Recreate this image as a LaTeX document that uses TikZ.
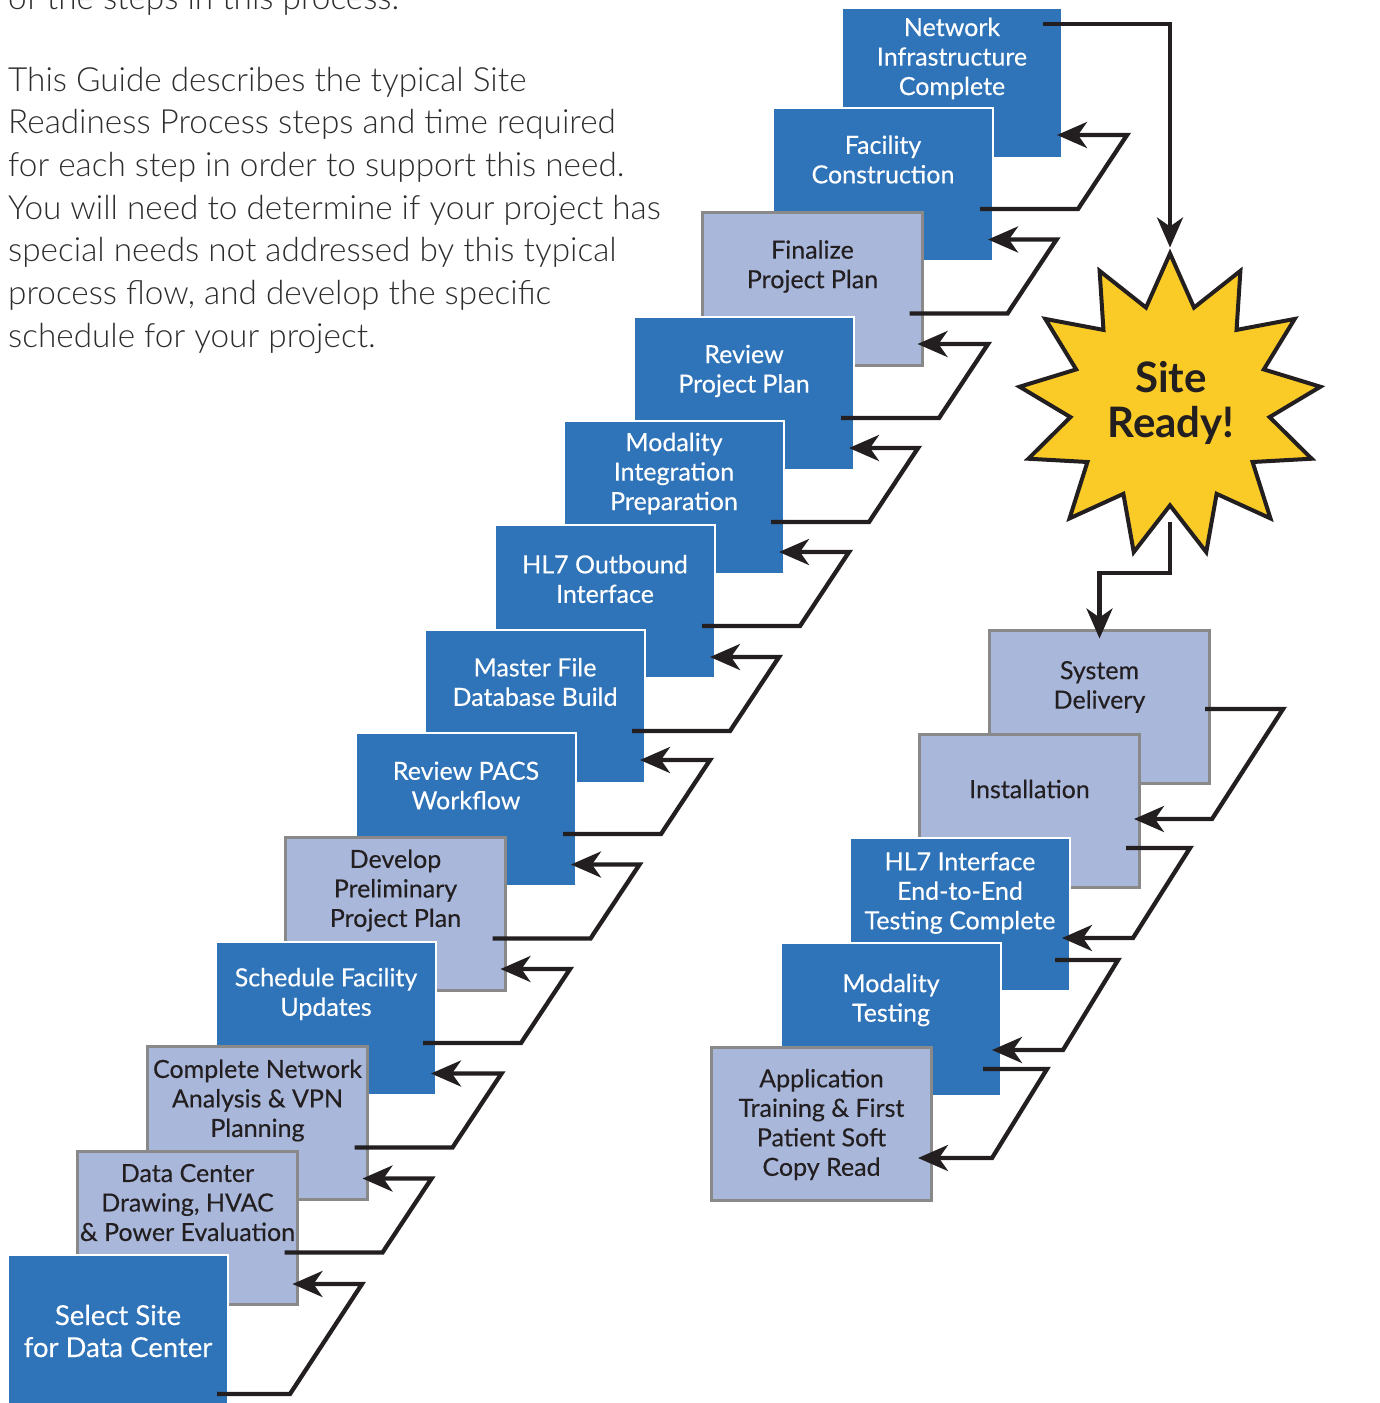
\documentclass[tikz,border=0pt]{standalone}
\usepackage{fontspec}
\setmainfont{Lato}
\newfontfamily\parafont{Lato Light}
\newfontfamily\boxfont{Lato}[FakeBold=0.3]
\usetikzlibrary{shapes.geometric,arrows.meta,calc}
\definecolor{geblue}{RGB}{47,115,185}
\definecolor{lav}{RGB}{169,183,219}
\definecolor{bordgray}{RGB}{137,137,137}
\definecolor{ink}{RGB}{35,31,32}
\definecolor{staryellow}{RGB}{250,203,38}
\definecolor{paratext}{RGB}{45,45,45}
\tikzset{
  boxbase/.style={rectangle, minimum width=220pt, minimum height=153pt, inner sep=0pt, outer sep=0pt},
  bluebox/.style={boxbase, fill=geblue, draw=white, line width=2pt},
  lavbox/.style={boxbase, fill=lav, draw=bordgray, line width=3pt},
  btext/.style={text=white, align=center, inner sep=0pt, font=\boxfont\fontsize{25}{29.5}\selectfont},
  dtext/.style={text=ink, align=center, inner sep=0pt, font=\boxfont\fontsize{25}{29.5}\selectfont},
  para/.style={anchor=base west, inner sep=0pt, text=paratext, font=\parafont\fontsize{33.3}{38}\selectfont},
  starshape/.style={star, star points=13, star point ratio=1.51, minimum size=303pt, inner sep=0pt, outer sep=0pt, fill=staryellow, draw=ink, line width=4pt, line join=miter},
  startext/.style={text=ink, align=center, inner sep=0pt, font=\bfseries\fontsize{42}{45}\selectfont},
  arr/.style={draw=ink, line width=4.3pt, line join=miter, -{Stealth[length=30pt,width=26pt,inset=9pt]}}
}
\begin{document}
\begin{tikzpicture}[x=1pt,y=-1pt]
\useasboundingbox (0,0) rectangle (1379,1403);

% introductory paragraph
\node[para] (p0) at (8,9) {of the steps in this process.};
\node[para] (p1) at (8,91) {This Guide describes the typical Site};
\node[para] (p2) at (8,133.7) {Readiness Process steps and time required};
\node[para] (p3) at (8,176.3) {for each step in order to support this need.};
\node[para] (p4) at (8,219) {You will need to determine if your project has};
\node[para] (p5) at (8,261.7) {special needs not addressed by this typical};
\node[para] (p6) at (8,304.3) {process flow, and develop the specific};
\node[para] (p7) at (8,347) {schedule for your project.};

% left staircase (back to front)
\node[bluebox, minimum height=150pt] (b13) at (952,83) {};
\node[btext] (t13) at (952,58.5) {Network\\Infrastructure\\Complete};
\node[bluebox] (b12) at (883,184.5) {};
\node[btext] (t12) at (883,159.5) {Facility\\Construction};
\node[lavbox] (b11) at (812.5,289) {};
\node[dtext] (t11) at (812.5,266.5) {Finalize\\Project Plan};
\node[bluebox] (b10) at (744,393.5) {};
\node[btext] (t10) at (744,371) {Review\\Project Plan};
\node[bluebox] (b9) at (674,497.5) {};
\node[btext] (t9) at (674,473.5) {Modality\\Integration\\Preparation};
\node[bluebox] (b8) at (605,601.5) {};
\node[btext] (t8) at (605,579) {HL7 Outbound\\Interface};
\node[bluebox] (b7) at (535,706.5) {};
\node[btext] (t7) at (535,682) {Master File\\Database Build};
\node[bluebox] (b6) at (466,809.5) {};
\node[btext] (t6) at (466,785.5) {Review PACS\\Workflow};
\node[lavbox] (b5) at (395.5,914) {};
\node[dtext] (t5) at (395.5,890.5) {Develop\\Preliminary\\Project Plan};
\node[bluebox] (b4) at (326,1018.5) {};
\node[btext] (t4) at (326,994) {Schedule Facility\\Updates};
\node[lavbox] (b3) at (257.5,1123) {};
\node[dtext] (t3) at (257.5,1100.5) {Complete Network\\Analysis \& VPN\\Planning};
\node[lavbox] (b2) at (187.5,1228) {};
\node[dtext] (t2) at (187.5,1202.5) {Data Center\\Drawing, HVAC\\\& Power Evaluation};
\node[bluebox] (b1) at (118,1331.5) {};
\node[btext, font=\boxfont\fontsize{27.5}{32}\selectfont] (t1) at (118,1331) {Select Site\\for Data Center};

% right staircase
\node[lavbox] (r1) at (1099.5,707) {};
\node[dtext] (s1) at (1099.5,687) {System\\Delivery};
\node[lavbox] (r2) at (1029.5,811) {};
\node[dtext] (s2) at (1029.5,789) {Installation};
\node[bluebox] (r3) at (960,914.5) {};
\node[btext] (s3) at (960,893) {HL7 Interface\\End-to-End\\Testing Complete};
\node[bluebox] (r4) at (891,1019.5) {};
\node[btext] (s4) at (891,1000) {Modality\\Testing};
\node[lavbox] (r5) at (821.5,1124) {};
\node[dtext] (s5) at (821.5,1124.5) {Application\\Training \& First\\Patient Soft\\Copy Read};

% star
\node[starshape] (star) at (1170,405) {};
\node[startext] (st) at (1171,403) {Site\\Ready!};

% connectors left chain
\draw[arr] ($(b1.north east)+(-11,139)$) -- ++(73,0) -- ++(72,-110) coordinate (k1) -- ($(k1 -| b2.east)+(-5,0)$);
\foreach \i/\j in {2/3,3/4,4/5,5/6,6/7,7/8,8/9,9/10,10/11,11/12,12/13}{
  \draw[arr] ($(b\i.north east)+(-13,101)$) -- ++(98,0) -- ++(49,-74) coordinate (k) -- ($(k -| b\j.east)+(-5,0)$);
}
\draw[arr, shorten >=6pt] ($(b13.north east)+(-19,16)$) -| (star.north);
\draw[arr] ($(star.center)+(0,117)$) -- ++(0,51) -| ($(r1.north)+(0,8)$);

% connectors right chain
\draw[arr] ($(r1.north east)+(-4.5,78.5)$) -- ++(78,0) -- ++(-71,110) coordinate (m1) -- ($(m1 -| r2.east)+(-5.5,0)$);
\draw[arr] ($(r2.north east)+(-13.5,113.5)$) -- ++(64,0) -- ++(-57,90) coordinate (m2) -- ($(m2 -| r3.east)+(-8,0)$);
\draw[arr] ($(r3.north east)+(-15,122)$) -- ++(63,0) -- ++(-55,90) coordinate (m3) -- ($(m3 -| r4.east)+(-9,0)$);
\draw[arr] ($(r4.north east)+(-18,126)$) -- ++(64,0) -- ++(-55,89) coordinate (m4) -- ($(m4 -| r5.east)+(-13.5,0)$);
\end{tikzpicture}
\end{document}
